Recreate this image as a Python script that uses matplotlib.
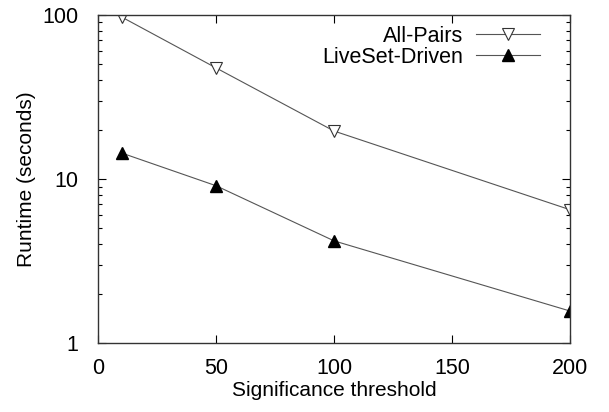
import matplotlib
matplotlib.use('Agg')
import matplotlib.pyplot as plt
from matplotlib.ticker import LogLocator, NullFormatter, FixedLocator

plt.rcParams['font.family'] = ['Liberation Sans', 'DejaVu Sans']

# data
thresholds = [10, 50, 100, 200]
all_pairs = [97, 47.5, 19.6, 6.5]
liveset_driven = [14.4, 9.1, 4.2, 1.57]

fig = plt.figure(figsize=(6.09, 4.12), dpi=100)
ax = fig.add_axes([0.161, 0.167, 0.775, 0.797])

ax.plot(thresholds, all_pairs, color='#555555', lw=0.8, marker='v', ms=8.5,
        mfc='white', mec='#333333', mew=0.8, label='All-Pairs')
ax.plot(thresholds, liveset_driven, color='#555555', lw=0.8, marker='^', ms=8.5,
        mfc='black', mec='black', label='LiveSet-Driven')

ax.set_yscale('log')
ax.set_xlim(0, 200)
ax.set_ylim(1, 100)
ax.xaxis.set_major_locator(FixedLocator([0, 50, 100, 150, 200]))
ax.yaxis.set_major_locator(FixedLocator([1, 10, 100]))
ax.yaxis.set_minor_locator(LogLocator(base=10, subs=range(2, 10)))
ax.yaxis.set_minor_formatter(NullFormatter())
ax.set_yticklabels(['1', '10', '100'])

ax.tick_params(which='both', direction='in', top=True, right=True,
               labelsize=15.5, width=0.8, colors='black')
ax.tick_params(axis='y', pad=14)
ax.tick_params(axis='x', pad=11)
ax.tick_params(which='major', length=6)
ax.tick_params(which='minor', length=3)
for s in ax.spines.values():
    s.set_linewidth(1.0)
    s.set_color('#333333')

ax.set_xlabel('Significance threshold', fontsize=15, labelpad=1)
ax.set_ylabel('Runtime (seconds)', fontsize=15, labelpad=5)

ax.legend(loc='upper right', frameon=False, markerfirst=False, fontsize=15.5,
          handlelength=3.0, handletextpad=0.6, labelspacing=0.0,
          borderaxespad=0.1, bbox_to_anchor=(0.96, 1.0))

plt.savefig('out.png', dpi=100)
